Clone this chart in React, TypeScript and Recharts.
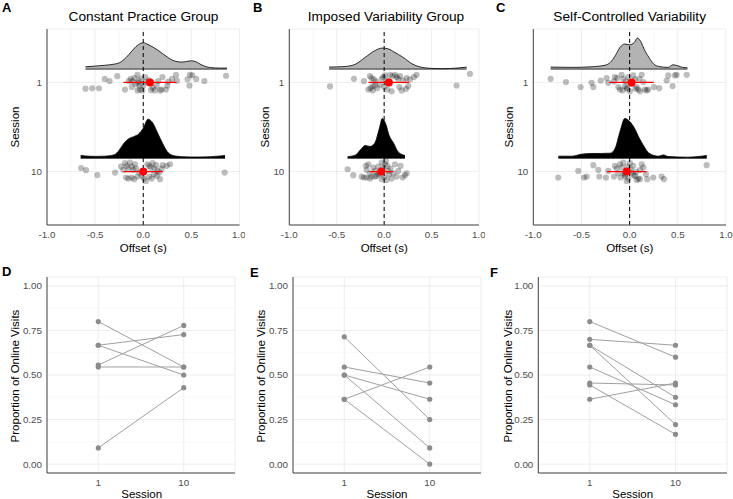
import { ComposedChart, Area, Scatter, XAxis, YAxis, CartesianGrid, ReferenceLine } from 'recharts';

const sessions = ['1', '10'];
const offsetTicks = [-1, -0.5, 0, 0.5, 1];
const offsetMinor = [-0.75, -0.25, 0.25, 0.75];
const propTicks = [0, 0.25, 0.5, 0.75, 1];
const propMinor = [0.125, 0.375, 0.625, 0.875];

// density curves, [offset, density]
const densConstS1 = [[-0.6,0.23],[-0.5,0.3],[-0.4,0.38],[-0.3,0.5],[-0.25,0.62],[-0.2,0.95],[-0.15,1.45],[-0.1,2.0],[-0.05,2.45],[0,2.63],[0.05,2.45],[0.1,2.2],[0.15,1.9],[0.2,1.55],[0.25,1.2],[0.3,0.9],[0.35,0.75],[0.4,0.7],[0.45,0.76],[0.5,0.83],[0.55,0.72],[0.6,0.45],[0.65,0.25],[0.7,0.15],[0.8,0.1],[0.87,0.1]];
const densConstS10 = [[-0.65,0.27],[-0.6,0.22],[-0.5,0.18],[-0.4,0.2],[-0.3,0.35],[-0.25,0.8],[-0.2,1.5],[-0.15,1.95],[-0.1,2.15],[-0.05,2.4],[0,3.0],[0.05,3.9],[0.1,3.5],[0.15,2.5],[0.2,1.5],[0.25,0.65],[0.3,0.3],[0.4,0.15],[0.5,0.12],[0.6,0.12],[0.7,0.15],[0.8,0.22],[0.85,0.27]];
const densImpS1 = [[-0.58,0.2],[-0.5,0.22],[-0.4,0.27],[-0.3,0.5],[-0.2,1.17],[-0.1,1.83],[-0.02,2.1],[0.05,2.0],[0.1,1.73],[0.2,1.17],[0.3,0.5],[0.4,0.17],[0.5,0.07],[0.6,0.04],[0.7,0.06],[0.8,0.13],[0.87,0.2]];
const densImpS10 = [[-0.385,0.15],[-0.3,0.33],[-0.25,0.83],[-0.2,1.27],[-0.15,1.17],[-0.1,1.5],[-0.05,3.0],[-0.02,3.97],[0.02,3.33],[0.05,2.33],[0.1,1.5],[0.15,0.6],[0.22,0.27]];
const densSelfS1 = [[-0.82,0.2],[-0.6,0.17],[-0.4,0.23],[-0.25,0.4],[-0.2,0.67],[-0.15,1.33],[-0.1,2.17],[-0.05,2.5],[0,2.43],[0.05,2.67],[0.08,3.1],[0.12,2.67],[0.15,2.0],[0.2,1.17],[0.25,0.5],[0.3,0.27],[0.4,0.17],[0.45,0.43],[0.5,0.33],[0.55,0.17],[0.6,0.13]];
const densSelfS10 = [[-0.74,0.2],[-0.6,0.2],[-0.5,0.4],[-0.4,0.47],[-0.3,0.47],[-0.2,0.5],[-0.15,1.0],[-0.1,2.67],[-0.05,3.97],[0,3.67],[0.05,3.0],[0.1,2.0],[0.15,1.17],[0.2,0.5],[0.3,0.2],[0.35,0.33],[0.4,0.17],[0.6,0.1],[0.8,0.27]];

// individual trials, [offset, vertical jitter]
const ptsConstS1 = [[-0.6,0.07],[-0.53,0.065],[-0.46,0.065],[-0.4,-0.04],[-0.35,-0.015],[-0.27,-0.07],[-0.19,0.08],[-0.15,-0.015],[-0.13,-0.04],[-0.11,-0.015],[-0.09,-0.05],[-0.06,-0.085],[-0.045,-0.015],[-0.035,0.035],[-0.02,-0.04],[-0.06,0.09],[-0.035,0.08],[-0.01,0.09],[-0.055,0.005],[0.0,0.035],[0.03,-0.005],[0.06,-0.025],[0.12,0.09],[0.14,0.035],[0.155,-0.015],[0.175,0.09],[0.19,0.08],[0.235,0.08],[0.25,0.035],[0.26,-0.01],[0.3,-0.04],[0.34,-0.085],[0.35,-0.02],[0.46,-0.035],[0.48,0.035],[0.485,-0.085],[0.51,-0.08],[0.55,-0.04],[0.635,-0.015],[0.86,-0.075],[-0.08,0.02],[0.1,0.06],[0.02,-0.06],[0.08,0.085],[0.2,-0.06],[-0.12,0.05]];
const ptsConstS10 = [[-0.645,-0.04],[-0.595,-0.015],[-0.477,0.04],[-0.293,0.011],[-0.231,-0.056],[-0.207,-0.019],[-0.19,-0.094],[-0.172,-0.064],[-0.155,-0.034],[-0.138,-0.1],[-0.12,-0.056],[-0.103,-0.019],[-0.086,-0.082],[-0.075,-0.034],[-0.061,0.056],[-0.179,0.067],[-0.155,0.079],[-0.12,0.067],[-0.095,0.086],[-0.041,0.011],[-0.016,0.049],[0.008,0.079],[0.029,0.105],[0.043,-0.082],[0.063,-0.064],[0.077,-0.045],[0.098,-0.094],[0.115,-0.034],[0.133,-0.071],[0.147,-0.007],[0.112,0.03],[0.14,0.049],[0.167,0.011],[0.192,-0.034],[0.202,-0.071],[0.244,-0.064],[0.278,-0.082],[0.063,0.056],[0.088,0.079],[0.174,0.086],[0.846,0.011]];
const ptsImpS1 = [[-0.571,0.045],[-0.318,-0.041],[-0.213,-0.015],[-0.15,-0.071],[-0.132,-0.049],[-0.108,-0.034],[-0.087,-0.011],[-0.167,0.079],[-0.143,0.064],[-0.122,0.041],[-0.097,0.034],[-0.072,0.064],[-0.044,0.026],[-0.026,-0.041],[-0.009,-0.06],[0.008,-0.079],[0.033,-0.022],[0.061,-0.086],[0.089,-0.071],[0.114,-0.086],[0.132,-0.06],[0.149,-0.041],[0.167,-0.071],[0.202,-0.022],[0.237,-0.049],[0.272,-0.034],[0.314,-0.06],[0.342,-0.086],[0.033,0.079],[0.079,0.1],[0.16,0.052],[0.185,0.09],[0.23,0.071],[0.254,0.041],[0.764,0.034],[0.905,-0.097],[-0.12,0.09],[0.0,0.05]];
const ptsImpS10 = [[-0.385,-0.026],[-0.325,0.041],[-0.237,0.056],[-0.213,0.067],[-0.192,-0.064],[-0.185,-0.019],[-0.167,-0.082],[-0.15,0.019],[-0.132,0.056],[-0.115,-0.045],[-0.097,-0.007],[-0.079,0.049],[-0.062,-0.056],[-0.044,0.019],[-0.026,-0.1],[-0.009,-0.034],[0.008,-0.082],[0.019,-0.12],[0.033,-0.064],[0.043,-0.007],[0.054,0.03],[0.068,-0.034],[0.079,0.079],[0.096,0.019],[0.114,-0.082],[0.132,0.056],[0.149,-0.007],[0.174,-0.064],[0.195,0.067],[0.219,0.041],[0.237,0.019],[-0.185,0.067],[-0.15,0.079],[-0.097,0.056],[-0.026,0.086],[0.026,0.094],[-0.06,0.03],[0.0,0.06]];
const ptsSelfS1 = [[-0.82,-0.041],[-0.661,-0.004],[-0.509,0.052],[-0.395,0.004],[-0.377,0.052],[-0.301,-0.022],[-0.239,-0.049],[-0.222,0.004],[-0.153,-0.06],[-0.129,-0.049],[-0.101,0.079],[-0.083,-0.086],[-0.066,-0.041],[-0.049,0.041],[-0.038,-0.011],[-0.024,0.071],[-0.014,-0.06],[0.003,0.1],[0.038,-0.079],[0.055,-0.034],[0.073,0.052],[0.09,0.079],[0.1,-0.041],[0.125,-0.086],[0.142,-0.004],[0.107,0.1],[0.159,0.079],[0.176,0.09],[0.193,0.079],[0.252,0.052],[0.307,0.064],[0.384,-0.022],[0.401,-0.079],[0.446,0.041],[0.47,-0.079],[0.488,-0.086],[0.592,-0.086],[-0.118,0.052],[-0.073,0.09],[0.021,0.015],[-0.163,-0.011],[-0.03,0.06],[0.06,0.07]];
const ptsSelfS10 = [[-0.741,0.067],[-0.533,-0.007],[-0.474,0.067],[-0.446,0.056],[-0.377,-0.071],[-0.325,-0.019],[-0.315,0.056],[-0.246,0.067],[-0.222,-0.007],[-0.163,0.056],[-0.153,-0.064],[-0.135,-0.034],[-0.118,0.019],[-0.101,-0.082],[-0.083,-0.045],[-0.066,-0.1],[-0.049,0.049],[-0.038,-0.007],[-0.024,-0.056],[-0.014,0.079],[0.003,-0.094],[0.01,-0.026],[0.021,0.011],[0.038,-0.064],[0.055,0.049],[0.073,0.094],[0.09,0.079],[0.107,-0.019],[0.125,-0.082],[0.142,-0.045],[0.169,0.03],[0.183,0.086],[0.245,0.067],[0.332,0.056],[0.356,0.086],[0.799,-0.071],[-0.094,0.067],[-0.059,0.019],[0.066,0.004],[-0.031,0.105],[0.107,0.086],[-0.05,0.03],[0.04,0.04]];

// mean and sd of offset per session
const meansConst = [0.07, 0.0];
const sdsConst = [0.275, 0.205];
const meansImp = [0.05, -0.03];
const sdsImp = [0.215, 0.125];
const meansSelf = [0.02, -0.03];
const sdsSelf = [0.23, 0.205];

// proportion of online visits per participant, session 1 and 10
const onlineConstS1 = [0.8, 0.667, 0.667, 0.556, 0.545, 0.091];
const onlineConstS10 = [0.545, 0.727, 0.5, 0.778, 0.545, 0.429];
const onlineImpS1 = [0.714, 0.545, 0.5, 0.5, 0.364, 0.364];
const onlineImpS10 = [0.25, 0.455, 0.364, 0.091, 0.545, 0.0];
const onlineSelfS1 = [0.8, 0.7, 0.667, 0.667, 0.545, 0.455, 0.444, 0.364];
const onlineSelfS10 = [0.6, 0.667, 0.375, 0.222, 0.333, 0.444, 0.167, 0.455];

const FONT = '"Liberation Sans", Arial, sans-serif';
const tickStyle = { fontSize: 9.8, fill: '#4d4d4d', fontFamily: FONT };
const axisStroke = { stroke: '#444', strokeWidth: 1 };

// ridge height per density unit and lift above session row (session units)
const K = 0.1124;
const LIFT = 0.15;

const ridge = (dens, s) => dens.map(([x, d]) => ({ x, y: [s - LIFT, s - LIFT - d * K] }));
const jitter = (pts, s) => pts.map(([x, j]) => ({ x, y: s + j }));

const greyDot = (p) => <circle cx={p.cx} cy={p.cy} r={3.1} fill="#000" fillOpacity={0.26} />;
const redDot = (p) => <circle cx={p.cx} cy={p.cy} r={4} fill="#ff0000" />;
const noDot = () => <g />;
const pairDot = (p) => <circle cx={p.cx} cy={p.cy} r={2.6} fill="#8c8c8c" />;

function RidgePanel({ left, width, mLeft, mRight, dens, pts, means, sds }) {
  return (
    <div style={{ position: 'absolute', left, top: 0 }}>
      <ComposedChart width={width} height={262} margin={{ top: 29, right: mRight, bottom: 15, left: mLeft }}>
        <CartesianGrid stroke="#f3f3f3" strokeWidth={0.6} horizontal={false} verticalValues={offsetMinor} />
        <CartesianGrid stroke="#e8e8e8" strokeWidth={0.8} />
        <XAxis type="number" dataKey="x" domain={[-1, 1]} ticks={offsetTicks} allowDataOverflow
          tickFormatter={(v) => v.toFixed(1)} tickLine={false} axisLine={axisStroke} tick={tickStyle}
          height={22} tickSize={5} tickMargin={1} />
        <YAxis type="number" dataKey="y" domain={[0.4, 2.6]} reversed ticks={[1, 2]} allowDataOverflow
          tickFormatter={(v) => sessions[v - 1]} tickLine={false} axisLine={axisStroke} tick={tickStyle}
          width={40} tickSize={3} tickMargin={2} />
        {sessions.map((s, i) => (
          <Area key={'d' + s} data={ridge(dens[i], i + 1)} dataKey="y" type="monotone"
            fill={i === 0 ? '#b3b3b3' : '#000'} fillOpacity={1} stroke="#000" strokeWidth={0.8}
            isAnimationActive={false} />
        ))}
        <ReferenceLine x={0} stroke="#000" strokeWidth={1} strokeDasharray="4 3" />
        {sessions.map((s, i) => (
          <Scatter key={'p' + s} data={jitter(pts[i], i + 1)} shape={greyDot} isAnimationActive={false} />
        ))}
        {sessions.map((s, i) => (
          <Scatter key={'sd' + s} data={[{ x: means[i] - sds[i], y: i + 1 }, { x: means[i] + sds[i], y: i + 1 }]}
            line={{ stroke: '#ff0000', strokeWidth: 1.3 }} lineType="joint" shape={noDot} isAnimationActive={false} />
        ))}
        {sessions.map((s, i) => (
          <Scatter key={'m' + s} data={[{ x: means[i], y: i + 1 }]} shape={redDot} isAnimationActive={false} />
        ))}
      </ComposedChart>
    </div>
  );
}

function PairPanel({ left, width, mLeft, mRight, s1, s10 }) {
  return (
    <div style={{ position: 'absolute', left, top: 250 }}>
      <ComposedChart width={width} height={249} margin={{ top: 27, right: mRight, bottom: 6, left: mLeft }}>
        <CartesianGrid stroke="#f3f3f3" strokeWidth={0.6} vertical={false} horizontalValues={propMinor} />
        <CartesianGrid stroke="#e8e8e8" strokeWidth={0.8} />
        <XAxis type="number" dataKey="x" domain={[0.4, 2.6]} ticks={[1, 2]} allowDataOverflow
          tickFormatter={(v) => sessions[v - 1]} tickLine={false} axisLine={axisStroke} tick={tickStyle}
          height={20} tickSize={5} tickMargin={1} />
        <YAxis type="number" dataKey="y" domain={[-0.05, 1.05]} ticks={propTicks} allowDataOverflow
          tickFormatter={(v) => v.toFixed(2)} tickLine={false} axisLine={axisStroke} tick={tickStyle}
          width={40} tickSize={3} tickMargin={2} />
        {s1.map((v, i) => (
          <Scatter key={i} data={[{ x: 1, y: v }, { x: 2, y: s10[i] }]}
            line={{ stroke: '#a0a0a0', strokeWidth: 1 }} lineType="joint" shape={pairDot} isAnimationActive={false} />
        ))}
      </ComposedChart>
    </div>
  );
}

export default function App() {
  const letter = { fontSize: 13, fontWeight: 'bold', fill: '#000' };
  const title = { fontSize: 13.7, fill: '#000', textAnchor: 'middle' as const };
  const axTitle = { fontSize: 11.5, fill: '#000', textAnchor: 'middle' as const };
  return (
    <div style={{ position: 'absolute', left: 0, top: 0, width: 733, height: 499, background: '#fff', fontFamily: FONT }}>
      <RidgePanel left={0} width={245} mLeft={7} mRight={5.5}
        dens={[densConstS1, densConstS10]} pts={[ptsConstS1, ptsConstS10]} means={meansConst} sds={sdsConst} />
      <RidgePanel left={240} width={245} mLeft={9.3} mRight={6}
        dens={[densImpS1, densImpS10]} pts={[ptsImpS1, ptsImpS10]} means={meansImp} sds={sdsImp} />
      <RidgePanel left={480} width={253} mLeft={13.3} mRight={7}
        dens={[densSelfS1, densSelfS10]} pts={[ptsSelfS1, ptsSelfS10]} means={meansSelf} sds={sdsSelf} />
      <PairPanel left={0} width={240} mLeft={7} mRight={5} s1={onlineConstS1} s10={onlineConstS10} />
      <PairPanel left={240} width={245} mLeft={13} mRight={4} s1={onlineImpS1} s10={onlineImpS10} />
      <PairPanel left={480} width={253} mLeft={18.3} mRight={6} s1={onlineSelfS1} s10={onlineSelfS10} />
      <svg width={733} height={499} style={{ position: 'absolute', left: 0, top: 0, pointerEvents: 'none' }} fontFamily={FONT}>
        <text x={2} y={11.5} {...letter}>A</text>
        <text x={253} y={11.5} {...letter}>B</text>
        <text x={496} y={11.5} {...letter}>C</text>
        <text x={2} y={276} {...letter}>D</text>
        <text x={250} y={277} {...letter}>E</text>
        <text x={490} y={277} {...letter}>F</text>
        <text x={143.5} y={21} {...title}>Constant Practice Group</text>
        <text x={386} y={21} {...title}>Imposed Variability Group</text>
        <text x={629.7} y={21} {...title}>Self-Controlled Variability</text>
        <text transform="translate(19,127) rotate(-90)" {...axTitle}>Session</text>
        <text transform="translate(269.3,127) rotate(-90)" {...axTitle}>Session</text>
        <text transform="translate(513,127) rotate(-90)" {...axTitle}>Session</text>
        <text x={143.3} y={251.5} {...axTitle}>Offset (s)</text>
        <text x={384.2} y={251.5} {...axTitle}>Offset (s)</text>
        <text x={629.7} y={251.5} {...axTitle}>Offset (s)</text>
        <text transform="translate(19.3,376) rotate(-90)" {...axTitle}>Proportion of Online Visits</text>
        <text transform="translate(265,376) rotate(-90)" {...axTitle}>Proportion of Online Visits</text>
        <text transform="translate(511.7,376) rotate(-90)" {...axTitle}>Proportion of Online Visits</text>
        <text x={141.7} y={497.5} {...axTitle}>Session</text>
        <text x={387} y={497.5} {...axTitle}>Session</text>
        <text x={632.7} y={497.5} {...axTitle}>Session</text>
      </svg>
    </div>
  );
}
